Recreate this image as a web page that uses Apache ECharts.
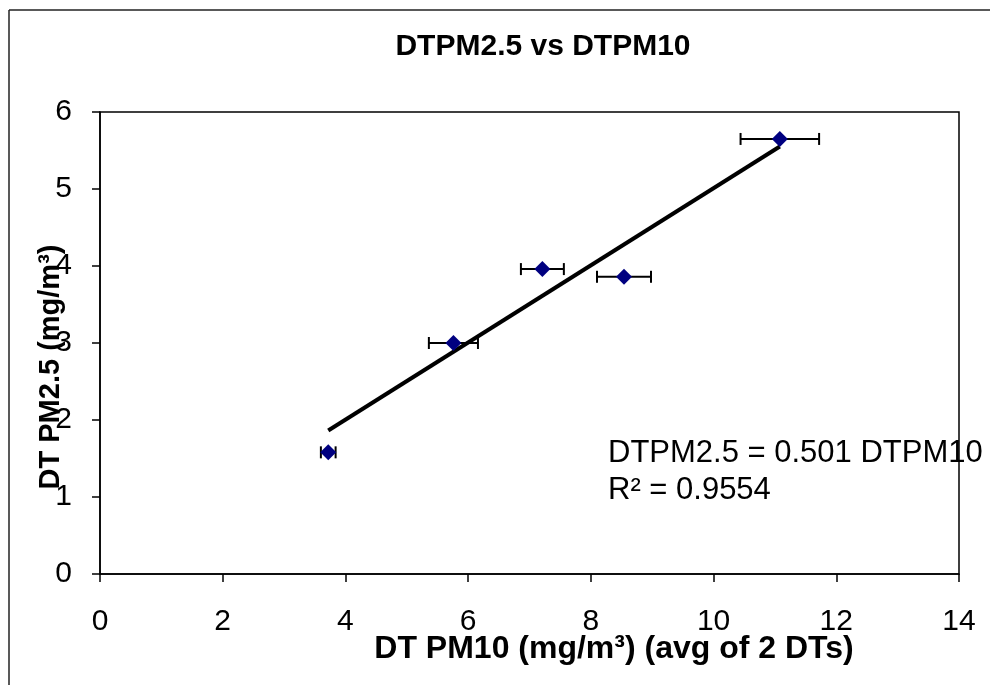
<!DOCTYPE html>
<html>
<head>
<meta charset="utf-8">
<script src="https://cdn.jsdelivr.net/npm/echarts@6/dist/echarts.min.js"></script>
<style>
  html, body { margin: 0; padding: 0; background: #fff; }
  #chart { width: 990px; height: 685px; }
</style>
</head>
<body>
<div id="chart"></div>
<script>
// DT PM10 (x), DT PM2.5 (y), half-width of the x error bar
var pm10 = [3.72, 5.76, 7.21, 8.54, 11.08];
var pm25 = [1.58, 3.00, 3.96, 3.86, 5.65];
var pm10Err = [0.12, 0.40, 0.35, 0.44, 0.64];
var slope = 0.501; // trend line through origin
var rSquared = '0.9554';

var font = 'Liberation Sans, Arial, sans-serif';

var points = pm10.map(function (x, i) { return [x, pm25[i]]; });
var errData = pm10.map(function (x, i) { return [x, pm25[i], pm10Err[i]]; });
var xMin = Math.min.apply(null, pm10);
var xMax = Math.max.apply(null, pm10);
var trend = [[xMin, slope * xMin], [xMax, slope * xMax]];

var myChart = echarts.init(document.getElementById('chart'));

var option = {
  backgroundColor: '#fff',
  animation: false,
  grid: {
    left: 100,
    right: 31,
    top: 112,
    bottom: 111,
    show: true,
    borderColor: '#000',
    borderWidth: 1.5
  },
  xAxis: {
    type: 'value',
    min: 0,
    max: 14,
    interval: 2,
    splitLine: { show: false },
    axisLine: { onZero: false, lineStyle: { color: '#000', width: 1.5 } },
    axisTick: { length: 8, lineStyle: { color: '#000', width: 1.5 } },
    axisLabel: { color: '#000', fontSize: 30, fontFamily: font, margin: 33 },
    name: 'DT PM10 (mg/m³) (avg of 2 DTs)',
    nameLocation: 'middle',
    nameGap: 59,
    nameMoveOverlap: false,
    nameTextStyle: { color: '#000', fontSize: 32, fontWeight: 'bold', fontFamily: font, padding: [0, 0, 0, 169] }
  },
  yAxis: {
    type: 'value',
    min: 0,
    max: 6,
    interval: 1,
    splitLine: { show: false },
    axisLine: { onZero: false, lineStyle: { color: '#000', width: 1.5 } },
    axisTick: { length: 8, lineStyle: { color: '#000', width: 1.5 } },
    axisLabel: { color: '#000', fontSize: 30, fontFamily: font, margin: 28 },
    name: 'DT PM2.5 (mg/m³)',
    nameLocation: 'middle',
    nameRotate: 90,
    nameGap: 35,
    nameMoveOverlap: false,
    nameTextStyle: { color: '#000', fontSize: 29, fontWeight: 'bold', fontFamily: font, padding: [0, 48, 0, 0] }
  },
  graphic: [
    // outer chart frame (top and left edges visible)
    { type: 'line', shape: { x1: 9, y1: 10, x2: 990, y2: 10 }, style: { stroke: '#222', lineWidth: 1.5 } },
    { type: 'line', shape: { x1: 9, y1: 10, x2: 9, y2: 685 }, style: { stroke: '#222', lineWidth: 1.5 } },
    {
      type: 'text', x: 543, y: 47,
      style: { text: 'DTPM2.5 vs DTPM10', fill: '#000', font: 'bold 30px ' + font, textAlign: 'center', textVerticalAlign: 'middle' }
    },
    {
      type: 'text', x: 608, y: 453, z: 100,
      style: { text: 'DTPM2.5 = ' + slope.toFixed(3) + ' DTPM10', fill: '#000', font: '31px ' + font, textVerticalAlign: 'middle' }
    },
    {
      type: 'text', x: 608, y: 490, z: 100,
      style: { text: 'R² = ' + rSquared, fill: '#000', font: '31px ' + font, textVerticalAlign: 'middle' }
    }
  ],
  series: [
    {
      name: 'trend',
      type: 'line',
      data: trend,
      symbol: 'none',
      silent: true,
      lineStyle: { color: '#000', width: 4 },
      z: 2
    },
    {
      name: 'error',
      type: 'custom',
      data: errData,
      encode: { x: 0, y: 1 },
      z: 3,
      renderItem: function (params, api) {
        var x = api.value(0), y = api.value(1), e = api.value(2);
        var lo = api.coord([x - e, y]);
        var hi = api.coord([x + e, y]);
        var h = 6;
        var st = { stroke: '#000', lineWidth: 2 };
        return {
          type: 'group',
          children: [
            { type: 'line', shape: { x1: lo[0], y1: lo[1], x2: hi[0], y2: hi[1] }, style: st },
            { type: 'line', shape: { x1: lo[0], y1: lo[1] - h, x2: lo[0], y2: lo[1] + h }, style: st },
            { type: 'line', shape: { x1: hi[0], y1: hi[1] - h, x2: hi[0], y2: hi[1] + h }, style: st }
          ]
        };
      }
    },
    {
      name: 'DTPM2.5',
      type: 'scatter',
      data: points,
      symbol: 'diamond',
      symbolSize: [16, 16],
      itemStyle: { color: '#000080', opacity: 1 },
      z: 4
    }
  ]
};

option && myChart.setOption(option);
</script>
</body>
</html>
